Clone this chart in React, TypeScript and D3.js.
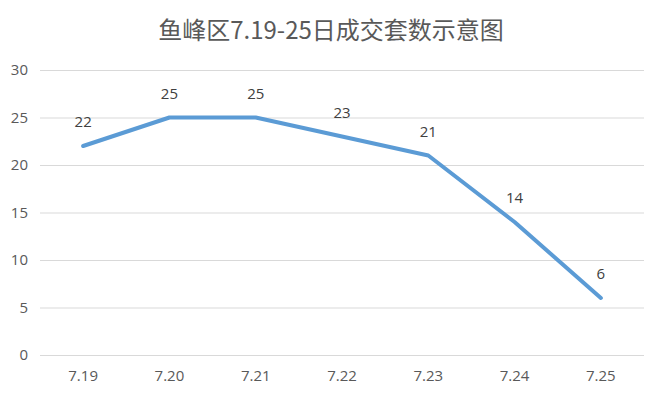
import React, { useEffect, useRef } from "react";
import * as d3 from "d3";

const title = "鱼峰区7.19-25日成交套数示意图";
const days = ["7.19", "7.20", "7.21", "7.22", "7.23", "7.24", "7.25"];
const deals = [22, 25, 25, 23, 21, 14, 6];
const yTicks = [0, 5, 10, 15, 20, 25, 30];

export default function App() {
  const ref = useRef<SVGSVGElement>(null);

  useEffect(() => {
    const width = 664;
    const height = 398;
    const left = 40, right = 644, top = 70, bottom = 355;
    const font = "'Open Sans', 'Noto Sans CJK SC', sans-serif";

    const svg = d3.select(ref.current);
    svg.selectAll("*").remove();
    svg.attr("width", width).attr("height", height);

    svg.append("rect").attr("width", width).attr("height", height).attr("fill", "#fff");

    const x = d3.scaleBand().domain(days).range([left, right]);
    const y = d3.scaleLinear().domain([0, 30]).range([bottom, top]);

    // title
    svg
      .append("text")
      .attr("x", 331)
      .attr("y", 39)
      .attr("text-anchor", "middle")
      .attr("fill", "#595959")
      .style("font-family", "'Noto Sans CJK SC', sans-serif")
      .style("font-size", "24px")
      .text(title);

    // grid
    const grid = svg
      .append("g")
      .attr("transform", `translate(${left},0)`)
      .call(d3.axisLeft(y).tickValues(yTicks).tickSize(-(right - left)).tickFormat(() => ""));
    grid.select(".domain").remove();
    grid.selectAll("line").attr("stroke", "#d9d9d9").attr("stroke-width", 1);

    // y labels
    svg
      .append("g")
      .selectAll("text")
      .data(yTicks)
      .enter()
      .append("text")
      .attr("x", 28)
      .attr("y", (d) => y(d) + 5)
      .attr("text-anchor", "end")
      .attr("fill", "#595959")
      .style("font-family", font)
      .style("font-size", "15px")
      .text((d) => d);

    // x labels
    svg
      .append("g")
      .selectAll("text")
      .data(days)
      .enter()
      .append("text")
      .attr("x", (d) => x(d)! + x.bandwidth() / 2)
      .attr("y", 381)
      .attr("text-anchor", "middle")
      .attr("fill", "#595959")
      .style("font-family", font)
      .style("font-size", "15px")
      .text((d) => d);

    const line = d3
      .line<number>()
      .x((d, i) => x(days[i])! + x.bandwidth() / 2)
      .y((d) => y(d));

    svg
      .append("path")
      .datum(deals)
      .attr("d", line)
      .attr("fill", "none")
      .attr("stroke", "#5b9bd5")
      .attr("stroke-width", 4)
      .attr("stroke-linecap", "round")
      .attr("stroke-linejoin", "round");

    // data labels
    svg
      .append("g")
      .selectAll("text")
      .data(deals)
      .enter()
      .append("text")
      .attr("x", (d, i) => x(days[i])! + x.bandwidth() / 2)
      .attr("y", (d) => y(d) - 19)
      .attr("text-anchor", "middle")
      .attr("fill", "#404040")
      .style("font-family", font)
      .style("font-size", "15px")
      .text((d) => d);
  }, []);

  return (
    <div style={{ margin: -8 }}>
      <svg ref={ref} style={{ display: "block" }}></svg>
    </div>
  );
}
